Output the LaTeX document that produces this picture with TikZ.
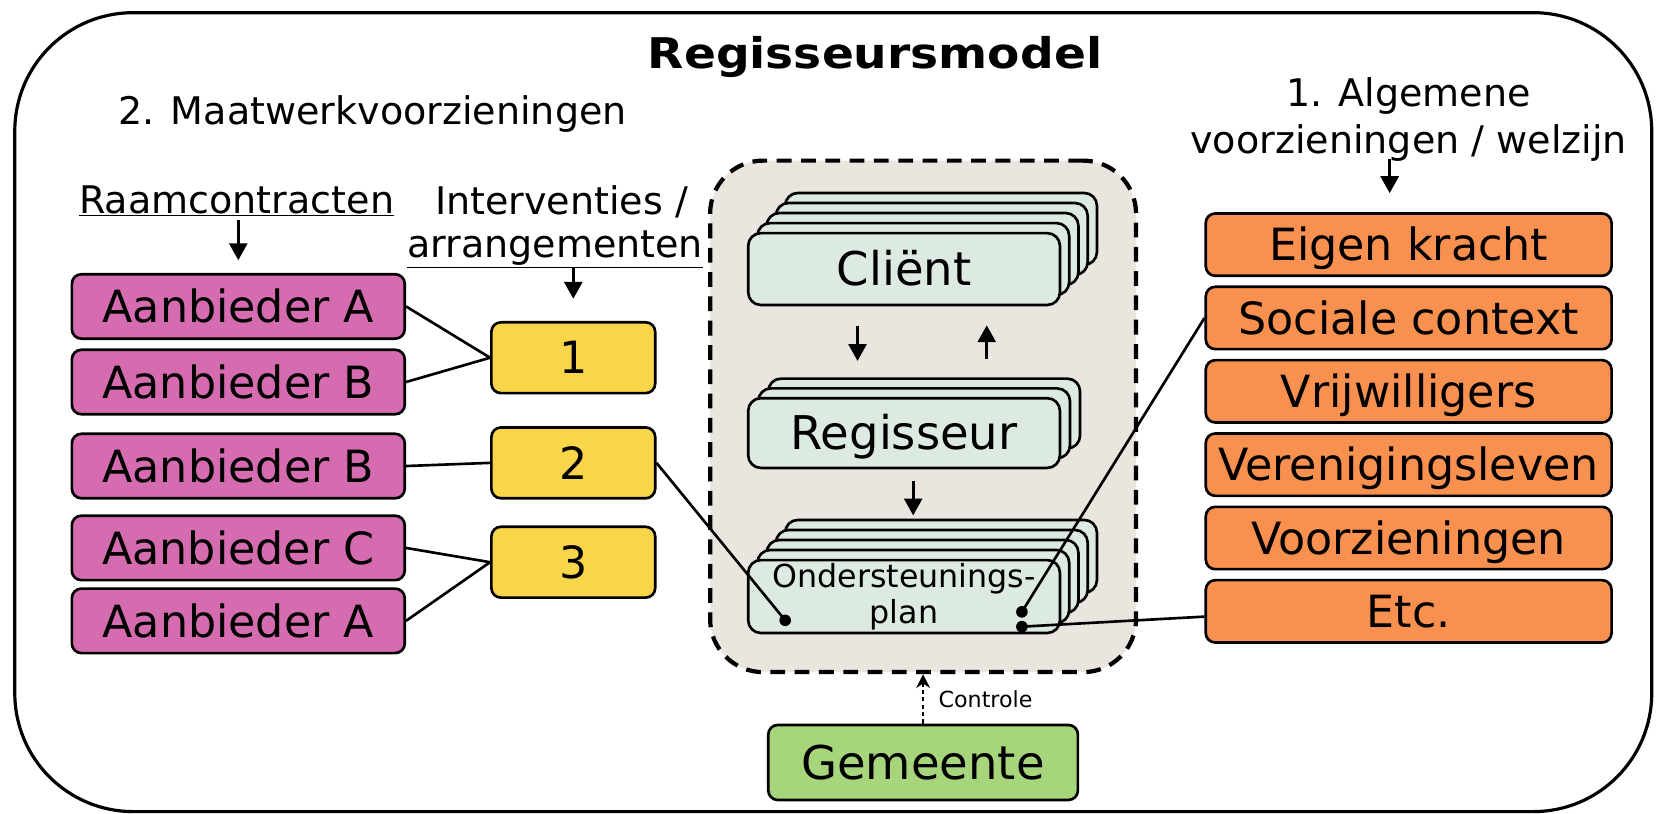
\documentclass[tikz,border=0pt]{standalone}
\usepackage{fontspec}
\usepackage{graphicx}
\setmainfont{DejaVu Sans}
\usetikzlibrary{arrows.meta,shadows,calc}
\definecolor{pinkc}{RGB}{213,108,176}
\definecolor{yellowc}{RGB}{249,213,73}
\definecolor{orangec}{RGB}{248,144,80}
\definecolor{greenc}{RGB}{167,213,123}
\definecolor{mintc}{RGB}{221,234,225}
\definecolor{beigec}{RGB}{234,229,223}
\newcommand{\fsz}[1]{\fontsize{#1}{#1}\selectfont}
\begin{document}
\begin{tikzpicture}[x=1pt,y=-1pt,
  frame/.style={line width=3pt, rounded corners=112pt},
  hdr/.style={font=\fsz{36}, inner sep=0pt},
  box/.style={draw=black, line width=2.5pt, rounded corners=9pt, inner sep=0pt,
    text height=30.7pt, text depth=0pt, font=\fsz{42}},
  pinkbox/.style={box, fill=pinkc, minimum width=315pt, minimum height=61pt},
  yellowbox/.style={box, fill=yellowc, minimum width=155pt, minimum height=67pt},
  orangebox/.style={box, fill=orangec, minimum width=384pt, minimum height=59pt},
  greenbox/.style={box, fill=greenc, minimum width=293pt, minimum height=71pt, font=\fsz{44}, text height=32pt},
  stackbox/.style={draw=black, line width=2.5pt, fill=mintc, rounded corners=12pt,
    inner sep=0pt, minimum width=295pt},
  cs/.style 2 args={copy shadow={shadow xshift=#1, shadow yshift=#2, draw=black, fill=mintc}},
  stackfour/.style={cs={35pt}{38pt}, cs={26.25pt}{28.5pt}, cs={17.5pt}{19pt}, cs={8.75pt}{9.5pt}},
  stacktwo/.style={cs={19pt}{18.5pt}, cs={9.5pt}{9.25pt}},
  container/.style={draw=black, line width=4pt, dash pattern=on 14pt off 9pt, fill=beigec,
    rounded corners=50pt, inner sep=0pt},
  arr/.style={line width=2.8pt, -{Triangle[length=16pt,width=17pt]}},
  conn/.style={line width=2.5pt},
  ctrlarr/.style={line width=1.8pt, dash pattern=on 4pt off 3pt, -{Stealth[length=13pt,width=13pt]}},
  dot/.style={fill=black}
]
\useasboundingbox (0,0) rectangle (1568,770);
\draw[frame] (14,12) rectangle (1563,768);

% titles and headers
\node[font=\fsz{40}\bfseries, inner sep=0pt, anchor=base] (title) at (828,65) {\scalebox{1.115}[1]{Regisseursmodel}};
\node[hdr, anchor=base west] (maat) at (112,118) {2. Maatwerkvoorzieningen};
\node[hdr, anchor=base] (raam) at (224,201.7) {\underline{Raamcontracten}};
\node[hdr, anchor=base west] (inter1) at (411.5,203.4) {Interventies /};
\node[hdr, anchor=base west] (inter2) at (385,244) {\underline{arrangementen}};
\node[hdr, anchor=base] (alg1) at (1333,101) {1. Algemene};
\node[hdr, anchor=base] (alg2) at (1333,145) {voorzieningen / welzijn};

% container
\node[container, minimum width=403pt, minimum height=484pt] (cont) at (873.5,394) {};

% stacked boxes
\node[stackbox, stackfour, minimum height=68pt, font=\fsz{44}, text height=32pt, text depth=0pt] (client) at (855.5,254.6) {Cliënt};
\node[stackbox, stacktwo, minimum height=66pt, font=\fsz{44}, text height=32pt, text depth=0pt] (regis) at (855.5,409.8) {Regisseur};
\node[stackbox, stackfour, minimum height=69pt, font=\fontsize{30}{34}\selectfont, align=center] (plan) at (855.5,564.5) {Ondersteunings-\\plan};

\draw[arr, shorten <=19pt, shorten >=34pt] ($(client.south west)!0.352!(client.south east)$) -- ($(regis.north west)!0.352!(regis.north east)$);
\draw[arr, shorten <=36pt, shorten >=18pt] ($(regis.north west)!0.763!(regis.north east)$) -- ($(client.south west)!0.763!(client.south east)$);
\draw[arr, shorten <=11pt, shorten >=41pt] ($(regis.south west)!0.529!(regis.south east)$) -- ($(plan.north west)!0.529!(plan.north east)$);

% left: providers and arrangements
\node[pinkbox] (a1) at (225.5,290) {Aanbieder A};
\node[pinkbox] (b1) at (225.5,361.5) {Aanbieder B};
\node[pinkbox] (b2) at (225.5,441) {Aanbieder B};
\node[pinkbox] (c1) at (225.5,518.5) {Aanbieder C};
\node[pinkbox] (a2) at (225.5,587.5) {Aanbieder A};

\node[yellowbox] (y1) at (542.5,338.5) {1};
\node[yellowbox] (y2) at (542.5,438) {2};
\node[yellowbox] (y3) at (542.5,532) {3};

\draw[arr, shorten <=3.5pt, shorten >=12pt] (raam.south -| a1.north) -- (a1.north);
\draw[arr, shorten >=21pt] (inter2.south -| y1.north) -- (y1.north);

% right: general provisions
\node[orangebox] (eig) at (1333,231.5) {Eigen kracht};
\node[orangebox] (soc) at (1333,300.9) {Sociale context};
\node[orangebox] (vrij) at (1333,370.3) {Vrijwilligers};
\node[orangebox] (ver) at (1333,439.7) {Verenigingsleven};
\node[orangebox] (voor) at (1333,509.1) {Voorzieningen};
\node[orangebox] (etc) at (1333,578.5) {Etc.};

\coordinate (algx) at (1315,0);
\draw[arr, shorten <=-2pt, shorten >=18pt] (alg2.south -| algx) -- (eig.north -| algx);

% municipality
\node[greenbox] (gem) at (873.5,721.5) {Gemeente};
\draw[ctrlarr] (gem.north) -- (cont.south);
\node[font=\fsz{21}, inner sep=0pt, anchor=west] (ctrl) at (888,662) {Controle};

% connectors
\coordinate (dL) at (743,587);
\coordinate (dR1) at (967,579);
\coordinate (dR2) at (967,593);
\draw[conn] (a1.east) -- (y1.west);
\draw[conn] (b1.east) -- (y1.west);
\draw[conn] (b2.east) -- (y2.west);
\draw[conn] (c1.east) -- (y3.west);
\draw[conn] (a2.east) -- (y3.west);
\draw[conn] (y2.east) -- (dL);
\draw[conn] (dR1) -- (soc.west);
\draw[conn] (dR2) -- ($(etc.west)+(0,5)$);
\fill[dot] (dL) circle[radius=5.5pt];
\fill[dot] (dR1) circle[radius=5.5pt];
\fill[dot] (dR2) circle[radius=5.5pt];
\end{tikzpicture}
\end{document}
